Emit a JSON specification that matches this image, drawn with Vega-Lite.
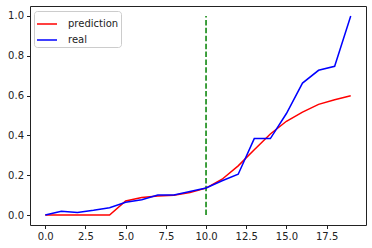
{
  "$schema": "https://vega.github.io/schema/vega-lite/v6.json",
  "width": 336,
  "height": 219,
  "autosize": {"type": "none"},
  "padding": {"left": 30, "top": 6, "right": 6, "bottom": 23},
  "background": "white",
  "config": {
    "view": {"stroke": "#222", "strokeWidth": 1},
    "axis": {
      "domain": false,
      "grid": false,
      "ticks": true,
      "tickSize": 3.5,
      "tickColor": "#222",
      "labelFont": "DejaVu Sans",
      "labelFontSize": 10,
      "labelColor": "#222",
      "labelPadding": 3,
      "title": null
    },
    "legend": {
      "labelFont": "DejaVu Sans",
      "labelFontSize": 10,
      "labelColor": "#222"
    }
  },
  "datasets": {
    "series": [
      {"x": 0, "y": 0, "series": "prediction"},
      {"x": 1, "y": 0, "series": "prediction"},
      {"x": 2, "y": 0, "series": "prediction"},
      {"x": 3, "y": 0, "series": "prediction"},
      {"x": 4, "y": 0, "series": "prediction"},
      {"x": 5, "y": 0.071, "series": "prediction"},
      {"x": 6, "y": 0.088, "series": "prediction"},
      {"x": 7, "y": 0.096, "series": "prediction"},
      {"x": 8, "y": 0.1, "series": "prediction"},
      {"x": 9, "y": 0.113, "series": "prediction"},
      {"x": 10, "y": 0.135, "series": "prediction"},
      {"x": 11, "y": 0.18, "series": "prediction"},
      {"x": 12, "y": 0.247, "series": "prediction"},
      {"x": 13, "y": 0.328, "series": "prediction"},
      {"x": 14, "y": 0.407, "series": "prediction"},
      {"x": 15, "y": 0.471, "series": "prediction"},
      {"x": 16, "y": 0.517, "series": "prediction"},
      {"x": 17, "y": 0.556, "series": "prediction"},
      {"x": 18, "y": 0.579, "series": "prediction"},
      {"x": 19, "y": 0.599, "series": "prediction"},
      {"x": 0, "y": 0, "series": "real"},
      {"x": 1, "y": 0.019, "series": "real"},
      {"x": 2, "y": 0.013, "series": "real"},
      {"x": 3, "y": 0.024, "series": "real"},
      {"x": 4, "y": 0.037, "series": "real"},
      {"x": 5, "y": 0.064, "series": "real"},
      {"x": 6, "y": 0.077, "series": "real"},
      {"x": 7, "y": 0.101, "series": "real"},
      {"x": 8, "y": 0.101, "series": "real"},
      {"x": 9, "y": 0.118, "series": "real"},
      {"x": 10, "y": 0.136, "series": "real"},
      {"x": 11, "y": 0.172, "series": "real"},
      {"x": 12, "y": 0.205, "series": "real"},
      {"x": 13, "y": 0.384, "series": "real"},
      {"x": 14, "y": 0.384, "series": "real"},
      {"x": 15, "y": 0.51, "series": "real"},
      {"x": 16, "y": 0.663, "series": "real"},
      {"x": 17, "y": 0.727, "series": "real"},
      {"x": 18, "y": 0.747, "series": "real"},
      {"x": 19, "y": 1.0, "series": "real"}
    ],
    "marker": [{"x": 10, "y": 0, "y2": 1}]
  },
  "layer": [
    {
      "data": {"name": "marker"},
      "mark": {"type": "rule", "color": "green", "strokeWidth": 1.5, "strokeDash": [5.5, 2.4]},
      "encoding": {
        "x": {"field": "x", "type": "quantitative"},
        "y": {"field": "y", "type": "quantitative"},
        "y2": {"field": "y2"}
      }
    },
    {
      "data": {"name": "series"},
      "mark": {"type": "line", "strokeWidth": 1.5},
      "encoding": {
        "x": {
          "field": "x", "type": "quantitative",
          "scale": {"domain": [-0.95, 19.95], "nice": false, "zero": false},
          "axis": {"values": [0, 2.5, 5, 7.5, 10, 12.5, 15, 17.5], "format": ".1f"}
        },
        "y": {
          "field": "y", "type": "quantitative",
          "scale": {"domain": [-0.05, 1.05], "nice": false, "zero": false},
          "axis": {"values": [0, 0.2, 0.4, 0.6, 0.8, 1.0], "format": ".1f"}
        },
        "color": {
          "field": "series", "type": "nominal",
          "scale": {"domain": ["prediction", "real"], "range": ["red", "blue"]},
          "legend": {
            "title": null,
            "orient": "none",
            "legendX": 4,
            "legendY": 5,
            "symbolType": "stroke",
            "symbolSize": 400,
            "symbolStrokeWidth": 1.5,
            "strokeColor": "#ccc",
            "fillColor": "white",
            "cornerRadius": 3,
            "padding": 2,
            "rowPadding": -5,
            "labelOffset": 10
          }
        }
      }
    }
  ]
}
